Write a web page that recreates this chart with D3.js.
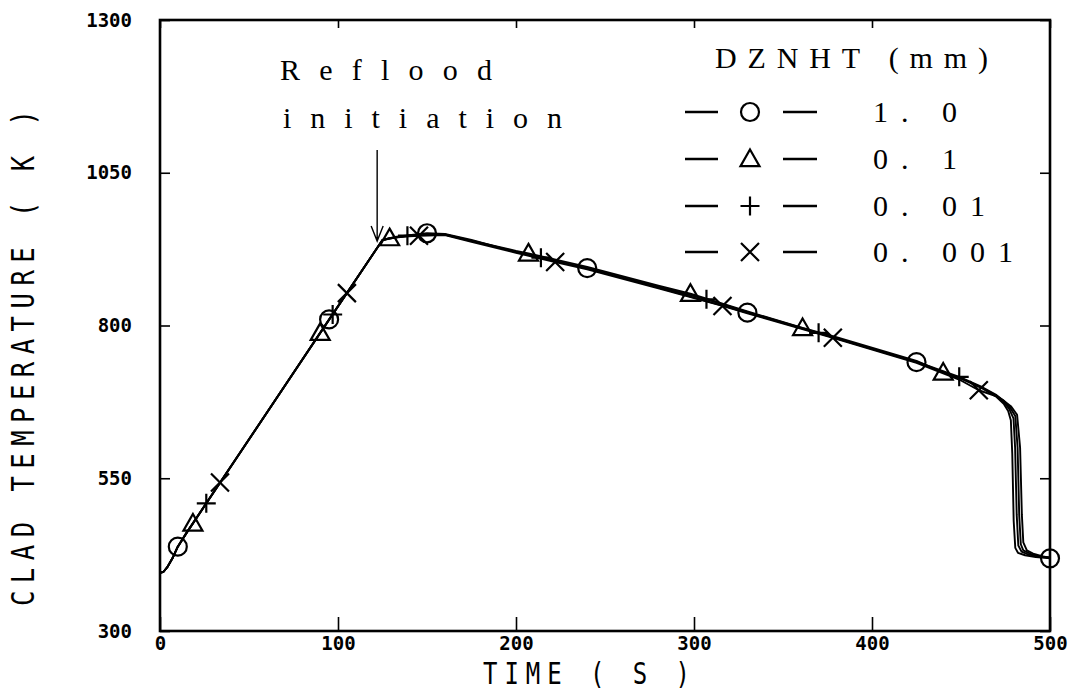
<!DOCTYPE html>
<html>
<head>
<meta charset="utf-8">
<script src="https://cdn.jsdelivr.net/npm/d3@7"></script>
<style>
  html, body { margin: 0; padding: 0; background: #fff; }
  svg { display: block; }
</style>
</head>
<body>
<svg id="chart" width="1069" height="695"></svg>
<script>
// ---------------- DATA ----------------
const xTicks = [0, 100, 200, 300, 400, 500];
const yTicks = [300, 550, 800, 1050, 1300];
const seriesNames = ["1. 0", "0. 1", "0. 01", "0. 001"];
const seriesSymbols = ["circle", "triangle", "plus", "cross"];

// DZNHT = 1.0 mm  [time (s), clad temperature (K)]
const points_10 = [[0,395],[2,397],[4,404],[7,419],[10,438],[15,461],[95,810],[125,940],[132,945],[140,948],[150,951],[160,950],[175,940],[200,920],[240,894],[280,862],[330,821],[380,779],[425,740],[450,713],[462,697],[470,683],[474,672],[476.5,660],[478,645],[478.8,590],[479.6,480],[480.5,436],[482,428],[486,424],[492,421],[500,419]];
const markers_10 = [10, 95, 150, 240, 330, 425, 500];

// DZNHT = 0.1 mm
const points_01 = [[0,395],[2,397],[4,404],[7,419],[10,438],[15,461],[18.5,476],[90,788],[125,940],[129,943],[140,947],[150,950],[160,949],[175,939],[200,922],[207,918],[240,896],[280,865],[298,852],[330,823],[361,796],[380,781],[425,742],[440,723],[450,714],[462,698],[470,685],[474,675],[477,664],[479.5,648],[480.4,600],[481.3,490],[482.2,440],[484,430],[488,425],[494,422],[500,420]];
const markers_01 = [18.5, 90, 129, 207, 298, 361, 440];

// DZNHT = 0.01 mm
const points_001 = [[0,395],[2,397],[4,404],[7,419],[10,438],[15,461],[26,509],[97,818],[125,940],[132,944],[139,947],[150,949],[160,949],[175,938],[200,921],[214,911],[240,893],[280,863],[307,843],[330,822],[370,788],[380,779],[425,741],[449,716],[462,699],[470,686],[474,677],[477.5,666],[480.5,652],[481.8,600],[482.7,490],[483.6,442],[485,432],[490,425],[495,422],[500,420]];
const markers_001 = [26, 97, 139, 214, 307, 370, 449];

// DZNHT = 0.001 mm
const points_0001 = [[0,395],[2,397],[4,404],[7,419],[10,438],[15,461],[33.7,543],[105,853],[125,940],[132,944],[140,946],[145.5,947],[160,948],[175,937],[200,919],[222,904],[240,892],[280,861],[316,832],[330,820],[378,780],[425,739],[450,710],[460,694],[470,684],[474,677],[478,668],[481.5,654],[483.2,600],[484.2,490],[485,445],[487,432],[491,426],[496,422],[500,420]];
const markers_0001 = [33.7, 105, 145.5, 222, 316, 378, 460];

const allPoints = [points_10, points_01, points_001, points_0001];
const allMarkers = [markers_10, markers_01, markers_001, markers_0001];

// ---------------- LAYOUT ----------------
const svg = d3.select("#chart");
const L = 160, R = 1050, T = 20, B = 631;
const x = d3.scaleLinear().domain([0, 500]).range([L, R]);
const y = d3.scaleLinear().domain([300, 1300]).range([B, T]);

svg.append("rect").attr("width", 1069).attr("height", 695).attr("fill", "#fff");

const tickFont = "'DejaVu Sans Mono', monospace";

// axes
const gL = svg.append("g").attr("transform", `translate(${L},0)`)
  .call(d3.axisLeft(y).tickValues(yTicks).tickSize(-10).tickPadding(28).tickFormat(d3.format("d")));
const gR = svg.append("g").attr("transform", `translate(${R},0)`)
  .call(d3.axisRight(y).tickValues(yTicks).tickSize(-10).tickFormat(""));
const gB = svg.append("g").attr("transform", `translate(0,${B})`)
  .call(d3.axisBottom(x).tickValues(xTicks).tickSize(-14).tickPadding(6).tickFormat(d3.format("d")));
const gT = svg.append("g").attr("transform", `translate(0,${T})`)
  .call(d3.axisTop(x).tickValues(xTicks).tickSize(-8).tickFormat(""));

[gL, gR, gB, gT].forEach(g => {
  g.select(".domain").remove();
  g.selectAll(".tick line").attr("stroke", "#000").attr("stroke-width", 1.6);
  g.selectAll(".tick text").attr("fill", "#000")
    .style("font-family", tickFont).style("font-weight", "bold").style("font-size", "19px");
});

// frame
svg.append("rect").attr("x", L).attr("y", T).attr("width", R - L).attr("height", B - T)
  .attr("fill", "none").attr("stroke", "#000").attr("stroke-width", 2.6);

// axis titles (tall, narrow plotter lettering)
svg.append("g").attr("transform", "translate(483,684) scale(0.8,1)")
  .append("text").attr("x", 0).attr("y", 0)
  .attr("textLength", 207 / 0.8).attr("lengthAdjust", "spacing")
  .style("font-family", tickFont).style("font-size", "30px").attr("fill", "#000")
  .text("TIME ( S )");
svg.append("g").attr("transform", "translate(34,606) rotate(-90) scale(0.8,1)")
  .append("text").attr("x", 0).attr("y", 0)
  .attr("textLength", 496 / 0.8).attr("lengthAdjust", "spacing")
  .style("font-family", tickFont).style("font-size", "32px").attr("fill", "#000")
  .text("CLAD TEMPERATURE ( K )");

// lines
const line = d3.line().x(d => x(d[0])).y(d => y(d[1])).curve(d3.curveLinear);
allPoints.forEach(pts => {
  svg.append("path").datum(pts).attr("d", line)
    .attr("fill", "none").attr("stroke", "#000").attr("stroke-width", 1.9)
    .attr("stroke-linejoin", "round");
});

// marker drawing
function drawSymbol(g, type, cx, cy) {
  const sw = 2.2;
  if (type === "circle") {
    g.append("circle").attr("cx", cx).attr("cy", cy).attr("r", 9)
      .attr("fill", "none").attr("stroke", "#000").attr("stroke-width", sw);
  } else if (type === "triangle") {
    const s = 9.5;
    g.append("path").attr("d", `M${cx},${cy - s}L${cx + s},${cy + s * 0.75}L${cx - s},${cy + s * 0.75}Z`)
      .attr("fill", "none").attr("stroke", "#000").attr("stroke-width", sw);
  } else if (type === "plus") {
    const s = 9.5;
    g.append("path").attr("d", `M${cx - s},${cy}L${cx + s},${cy}M${cx},${cy - s}L${cx},${cy + s}`)
      .attr("fill", "none").attr("stroke", "#000").attr("stroke-width", sw);
  } else {
    const s = 9;
    g.append("path").attr("d", `M${cx - s},${cy - s}L${cx + s},${cy + s}M${cx - s},${cy + s}L${cx + s},${cy - s}`)
      .attr("fill", "none").attr("stroke", "#000").attr("stroke-width", sw);
  }
}

const mg = svg.append("g");
allPoints.forEach((pts, i) => {
  const set = new Set(allMarkers[i]);
  pts.filter(p => set.has(p[0])).forEach(p => drawSymbol(mg, seriesSymbols[i], x(p[0]), y(p[1])));
});

// annotation
const serif = "'Liberation Serif', 'DejaVu Serif', serif";
svg.append("text").attr("x", 280).attr("y", 80).attr("textLength", 212).attr("lengthAdjust", "spacing")
  .style("font-family", serif).style("font-size", "30px").attr("fill", "#000").text("Reflood");
svg.append("text").attr("x", 283).attr("y", 128).attr("textLength", 279).attr("lengthAdjust", "spacing")
  .style("font-family", serif).style("font-size", "30px").attr("fill", "#000").text("initiation");
const ax = x(122);
svg.append("path").attr("d", `M${ax},150L${ax},241M${ax - 6},226L${ax},241L${ax + 6},226`)
  .attr("fill", "none").attr("stroke", "#000").attr("stroke-width", 1.4);

// legend
svg.append("text").attr("x", 715).attr("y", 68).attr("textLength", 273).attr("lengthAdjust", "spacing")
  .style("font-family", serif).style("font-size", "30px").attr("fill", "#000").text("DZNHT (mm)");
const rowY = [112, 159, 206, 252];
seriesNames.forEach((name, i) => {
  const ry = rowY[i];
  svg.append("path").attr("d", `M685,${ry}L718,${ry}M783,${ry}L817,${ry}`)
    .attr("stroke", "#000").attr("stroke-width", 2.4).attr("fill", "none");
  drawSymbol(svg, seriesSymbols[i], 750, ry);
  svg.append("text").attr("x", 873).attr("y", ry + 10)
    .style("font-family", serif).style("font-size", "30px").style("letter-spacing", "13px")
    .attr("fill", "#000").text(name);
});
</script>
</body>
</html>
